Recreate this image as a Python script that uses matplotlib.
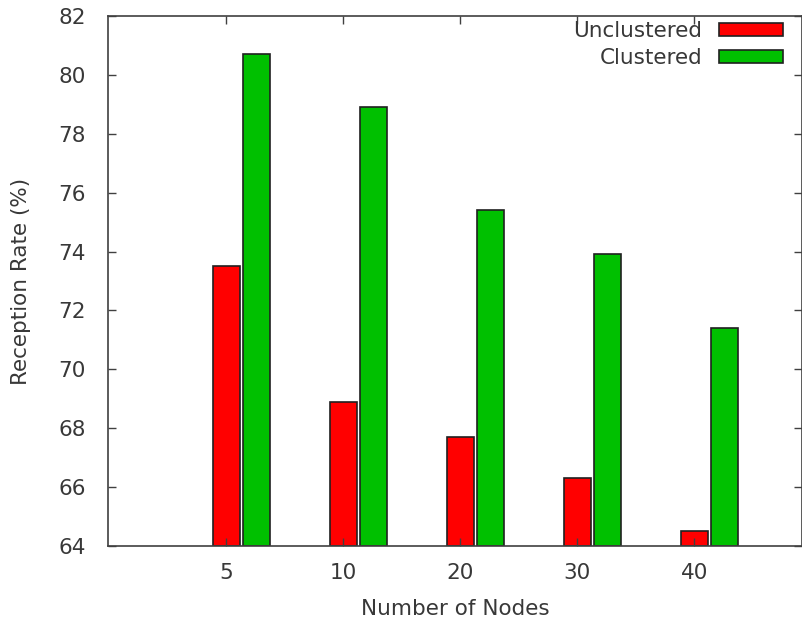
import matplotlib
matplotlib.use("Agg")
import matplotlib.pyplot as plt
import numpy as np

categories = ["5", "10", "20", "30", "40"]
unclustered = [73.5, 68.9, 67.7, 66.3, 64.5]
clustered = [80.7, 78.9, 75.4, 73.9, 71.4]

plt.rcParams['font.family'] = ['DejaVu Sans']
txt = '#383838'
axc = '#404040'
fs = 15.5

fig = plt.figure(figsize=(8.03, 6.22), dpi=100)
ax = fig.add_axes([0.1345, 0.1222, 0.8643, 0.8521])

x = np.arange(len(categories))
w = 0.23
ax.bar(x, [u - 64 for u in unclustered], bottom=64, width=w, color='#ff0000', edgecolor='#202020', linewidth=1.2, label='Unclustered', align='center')
ax.bar(x + 0.255, [c - 64 for c in clustered], bottom=64, width=w, color='#00c000', edgecolor='#202020', linewidth=1.2, label='Clustered', align='center')

ax.set_xlim(-1.01, 4.92)
ax.set_ylim(64, 82)
ax.set_yticks(np.arange(64, 83, 2))
ax.set_xticks(x)
ax.set_xticklabels(categories)
ax.tick_params(direction='in', length=6, width=1, colors=axc, labelcolor=txt, labelsize=fs,
               top=True, right=True)
ax.tick_params(axis='x', pad=12)
ax.tick_params(axis='y', pad=16)
for s in ax.spines.values():
    s.set_color(axc)
    s.set_linewidth(1.2)

ax.set_xlabel('Number of Nodes', fontsize=fs, color=txt, labelpad=12)
ax.set_ylabel('Reception Rate (%)', fontsize=fs, color=txt, labelpad=20)

leg = ax.legend(loc='upper right', frameon=False, markerfirst=False, fontsize=fs,
                handlelength=3.0, handleheight=0.55, labelspacing=0.3,
                borderaxespad=0.15, handletextpad=0.75, bbox_to_anchor=(0.99, 1.012))
for t in leg.get_texts():
    t.set_color(txt)

fig.savefig('out.png', dpi=100)
